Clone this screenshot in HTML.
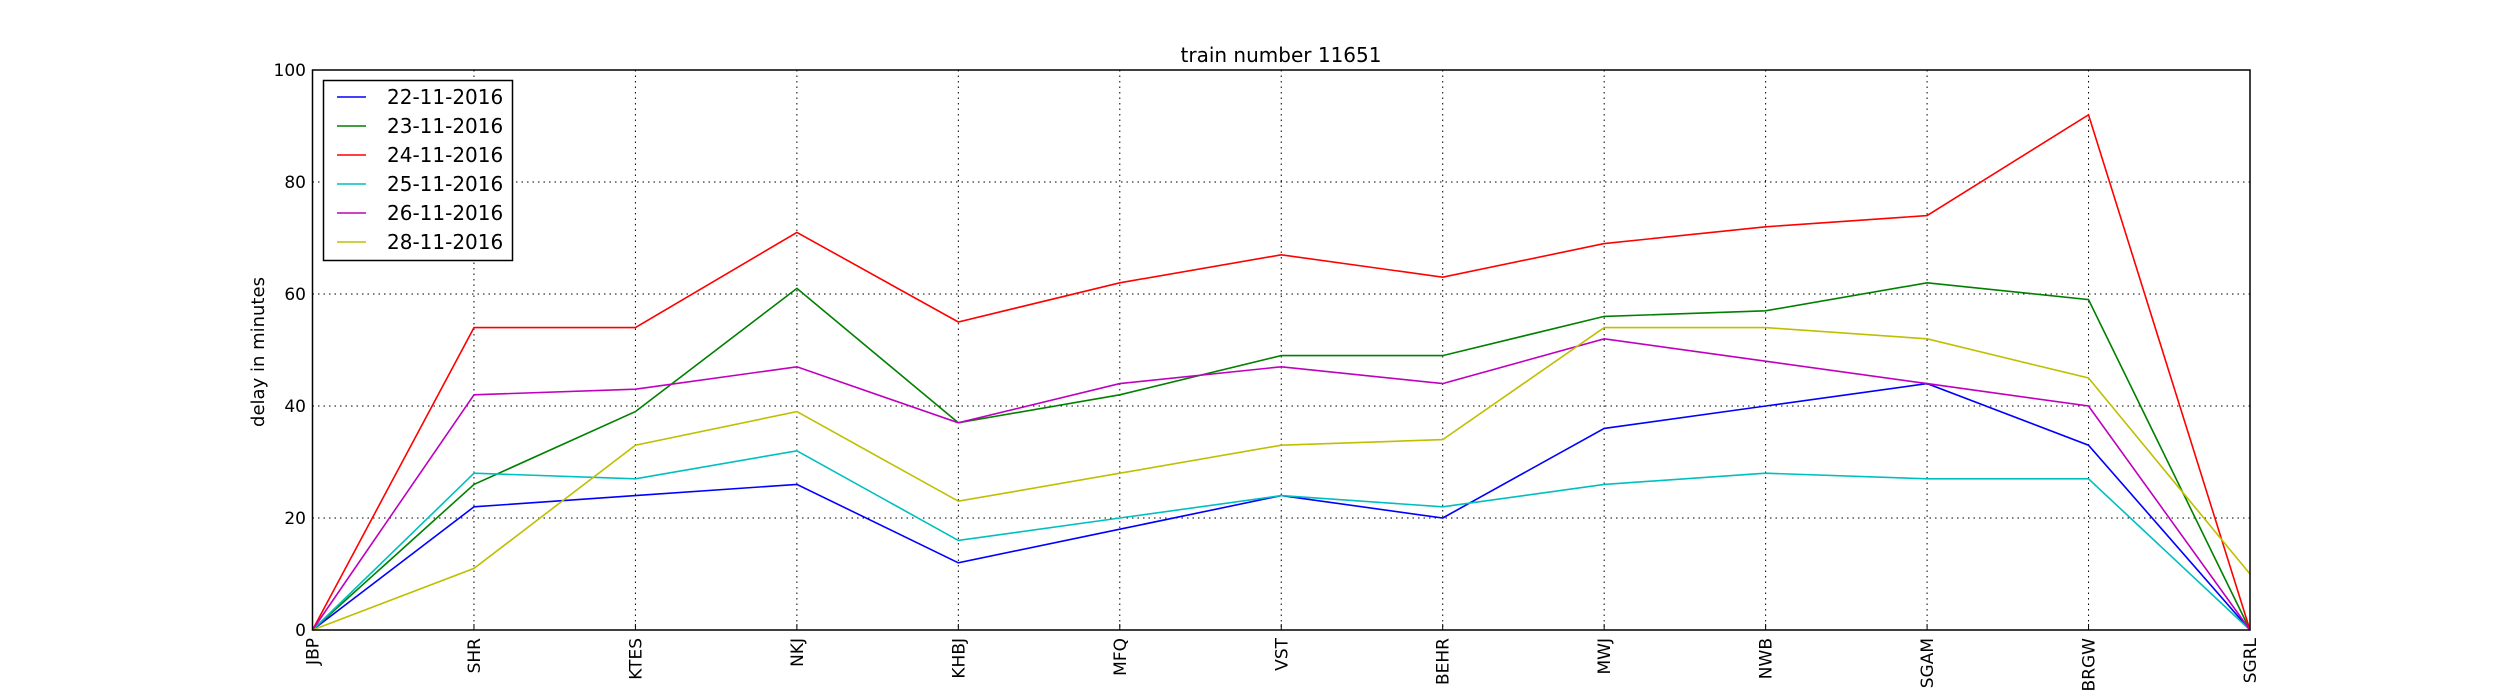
<!DOCTYPE html>
<html><head><meta charset="utf-8"><style>
html,body{margin:0;padding:0;background:#fff;}
svg{display:block;font-family:"DejaVu Sans","Liberation Sans",sans-serif;}
</style></head><body>
<svg id="chart" width="2500" height="700" viewBox="0 0 2500 700" xmlns="http://www.w3.org/2000/svg">
<rect width="2500" height="700" fill="#fff"/>
<text x="1281" y="62" font-size="20" text-anchor="middle">train number 11651</text>
<text x="0" y="0" font-size="18" text-anchor="middle" transform="translate(264,352) rotate(-90)">delay in minutes</text>
<text x="1281" y="716" font-size="20" text-anchor="middle">stations along the route</text>
<g id="grid"></g>
<g id="series"></g>
<rect x="312.5" y="70" width="1937.5" height="560" fill="none" stroke="#000" stroke-width="1.5"/>
<g id="ticks"></g>
<g id="legend"></g>
</svg>
<script>
const stations = ["JBP","SHR","KTES","NKJ","KHBJ","MFQ","VST","BEHR","MWJ","NWB","SGAM","BRGW","SGRL"];
const seriesNames = ["22-11-2016","23-11-2016","24-11-2016","25-11-2016","26-11-2016","28-11-2016"];
const d22 = [0,22,24,26,12,18,24,20,36,40,44,33,0];
const d23 = [0,26,39,61,37,42,49,49,56,57,62,59,0];
const d24 = [0,54,54,71,55,62,67,63,69,72,74,92,0];
const d25 = [0,28,27,32,16,20,24,22,26,28,27,27,0];
const d26 = [0,42,43,47,37,44,47,44,52,48,44,40,0];
const d28 = [0,11,33,39,23,28,33,34,54,54,52,45,10];
const yTicks = [0,20,40,60,80,100];
const seriesData = [d22,d23,d24,d25,d26,d28];
const colors = ["#0000ff","#008000","#ff0000","#00bfbf","#bf00bf","#bfbf00"];

const L=312.5,R=2250,T=70,B=630;
const NS="http://www.w3.org/2000/svg";
function xs(i){return L+(R-L)*i/(stations.length-1);}
function ys(v){return B-(B-T)*v/100;}
function mk(tag,attrs,parent){const e=document.createElementNS(NS,tag);for(const k in attrs)e.setAttribute(k,attrs[k]);parent.appendChild(e);return e;}
const grid=document.getElementById('grid'),ticks=document.getElementById('ticks'),ser=document.getElementById('series'),leg=document.getElementById('legend');

stations.forEach((s,i)=>{
  const x=xs(i);
  const g=mk('line',{x1:x,x2:x,y1:T,y2:B,stroke:'#000','stroke-width':1,'stroke-dasharray':'1.5,4'},grid);
  
  
  const t=mk('line',{x1:x,x2:x,y1:B,y2:B-6,stroke:'#000','stroke-width':1},ticks);
  
  
  const lb=mk('text',{'font-size':17,'text-anchor':'end',transform:`translate(${x+6},${638}) rotate(-90)`},ticks);
  lb.textContent=s;
  
  
});
yTicks.forEach(v=>{
  const y=ys(v);
  const g=mk('line',{x1:L,x2:R,y1:y,y2:y,stroke:'#000','stroke-width':1,'stroke-dasharray':'1.5,4'},grid);
  
  
  const lb=mk('text',{x:306,y:y+6,'font-size':17,'text-anchor':'end'},ticks);
  lb.textContent=v;
  
  
});
seriesData.forEach((d,si)=>{
  const pts=d.map((v,i)=>xs(i).toFixed(1)+','+ys(v).toFixed(1)).join(' ');
  const p=mk('polyline',{points:pts,fill:'none',stroke:colors[si],'stroke-width':1.6},ser);
  
  
});
const box=mk('rect',{x:323.5,y:80.5,width:189,height:180,fill:'#fff',stroke:'#000','stroke-width':1.5},leg);


seriesNames.forEach((n,i)=>{
  const y=97+i*29;
  const ln=mk('line',{x1:337,x2:366,y1:y,y2:y,stroke:colors[i],'stroke-width':1.6},leg);
  
  
  const t=mk('text',{x:387,y:y+7,'font-size':20},leg);
  t.textContent=n;
  
  
});
</script>
</body></html>
